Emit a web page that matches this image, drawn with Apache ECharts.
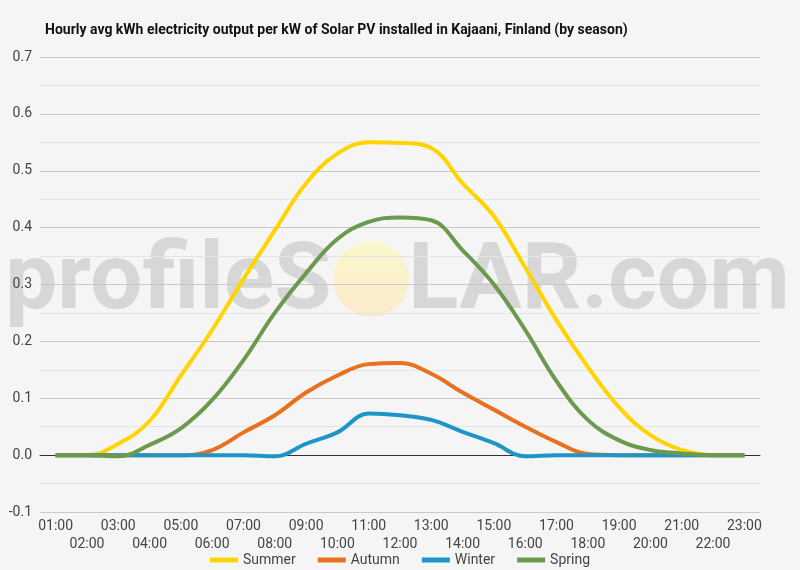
<!DOCTYPE html>
<html>
<head>
<meta charset="utf-8">
<script src="https://cdn.jsdelivr.net/npm/echarts@6/dist/echarts.min.js"></script>
<style>
  html, body { margin: 0; padding: 0; background: #f5f5f5; }
  #chart { width: 800px; height: 570px; }
</style>
</head>
<body>
<div id="chart"></div>
<script>
// hours of the day
const hours = ['01:00', '02:00', '03:00', '04:00', '05:00', '06:00', '07:00', '08:00',
    '09:00', '10:00', '11:00', '12:00', '13:00', '14:00', '15:00', '16:00',
    '17:00', '18:00', '19:00', '20:00', '21:00', '22:00', '23:00'];

// kWh per kW
const summer = [0, 0, 0.02, 0.06, 0.14, 0.22, 0.31, 0.395, 0.478, 0.53, 0.55, 0.549, 0.54,
    0.478, 0.42, 0.33, 0.237, 0.155, 0.084, 0.035, 0.009, 0, 0];
const autumn = [0, 0, 0, 0, 0, 0.009, 0.04, 0.07, 0.11, 0.14, 0.16, 0.162, 0.143,
    0.11, 0.08, 0.05, 0.023, 0.002, 0, 0, 0, 0, 0];
const winter = [0, 0, 0, 0, 0, 0, 0, -0.002, 0.02, 0.04, 0.073, 0.07, 0.062,
    0.041, 0.021, -0.002, 0, 0, 0, 0, 0, 0, 0];
const spring = [0, 0, -0.002, 0.018, 0.047, 0.097, 0.167, 0.25, 0.32, 0.38, 0.41, 0.418, 0.413,
    0.36, 0.3, 0.22, 0.13, 0.062, 0.026, 0.009, 0.003, 0, 0];

const colors = {
    summer: '#FFD400',
    autumn: '#E8701F',
    winter: '#1E95C8',
    spring: '#6B9A4E'
};

const chart = echarts.init(document.getElementById('chart'));

function line(name, data, color) {
    return {
        name: name,
        type: 'line',
        data: data,
        smooth: 0.4,
        symbol: 'none',
        lineStyle: { color: color, width: 4 },
        itemStyle: { color: color }
    };
}

// watermark pieces
const markText = {
    fontSize: 93,
    fontWeight: 'bold',
    fontFamily: 'Roboto, sans-serif',
    fill: 'rgba(160,160,160,0.35)'
};

const option = {
    backgroundColor: '#f5f5f5',
    textStyle: { fontFamily: 'Roboto, sans-serif' },
    title: {
        text: 'Hourly avg kWh electricity output per kW of Solar PV installed in Kajaani, Finland (by season)',
        left: 40,
        top: 18,
        textStyle: { fontSize: 14, fontWeight: 'bold', color: '#111', fontFamily: 'Roboto, sans-serif' }
    },
    grid: { left: 40, right: 40, top: 57, bottom: 58 },
    legend: {
        bottom: 3,
        padding: [0, 5],
        left: 'center',
        icon: 'rect',
        itemWidth: 28,
        itemHeight: 5,
        itemGap: 22,
        textStyle: { color: '#444', fontSize: 14 },
        data: ['Summer', 'Autumn', 'Winter', 'Spring']
    },
    xAxis: {
        type: 'category',
        data: hours,
        boundaryGap: true,
        axisLine: { onZero: true, lineStyle: { color: '#333', width: 1 } },
        axisTick: { show: false },
        axisLabel: {
            interval: 0,
            color: '#444',
            fontSize: 14,
            lineHeight: 18,
            margin: 5,
            formatter: (v, i) => (i % 2 === 1 ? '\n' + v : v)
        }
    },
    yAxis: {
        type: 'value',
        min: -0.1,
        max: 0.7,
        interval: 0.05,
        axisLine: { show: false },
        axisTick: { show: false },
        axisLabel: {
            color: '#444',
            fontSize: 14,
            margin: 8,
            formatter: (v) => {
                const k = Math.round(v * 100);
                return k % 10 === 0 ? (k / 100).toFixed(1) : '';
            }
        },
        splitLine: {
            lineStyle: { color: ['#c8c8c8', '#e4e4e4'], width: 1 }
        }
    },
    graphic: [{
        type: 'group',
        z: 100,
        silent: true,
        children: [{
            type: 'text',
            x: 5,
            y: 238,
            style: Object.assign({ text: 'profileS' }, markText)
        }, {
            type: 'circle',
            shape: { cx: 371, cy: 279, r: 38 },
            style: {
                fill: new echarts.graphic.LinearGradient(0, 0, 0, 1, [
                    { offset: 0, color: 'rgba(255,250,170,0.55)' },
                    { offset: 1, color: 'rgba(255,225,170,0.55)' }
                ])
            }
        }, {
            type: 'text',
            x: 408,
            y: 238,
            style: Object.assign({ text: 'LAR.com' }, markText)
        }]
    }],
    series: [
        line('Summer', summer, colors.summer),
        line('Autumn', autumn, colors.autumn),
        line('Winter', winter, colors.winter),
        line('Spring', spring, colors.spring)
    ]
};

chart.setOption(option);
</script>
</body>
</html>
